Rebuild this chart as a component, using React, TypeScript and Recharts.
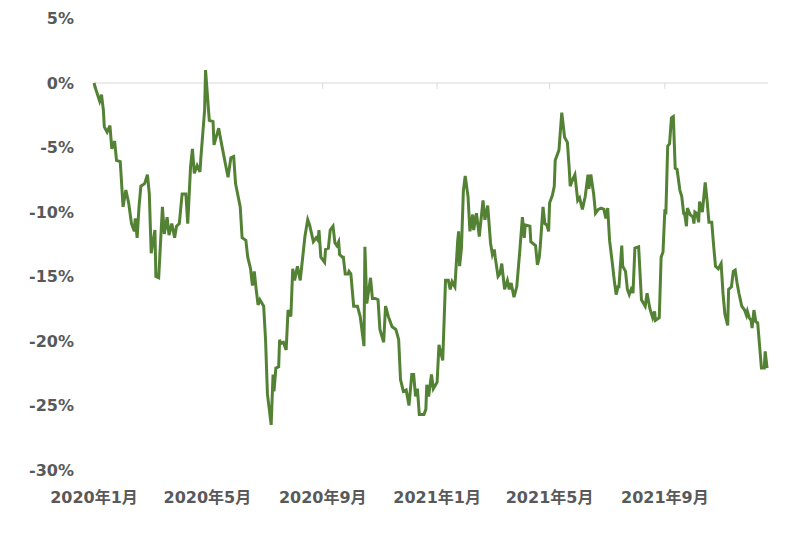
import { CartesianGrid, Line, LineChart, ReferenceLine, XAxis, YAxis } from 'recharts';

// 2020/1/1 からの経過日数と、その日のドローダウン（%）
const days = [
  0, 2, 6, 8, 10, 11, 14, 17, 19, 22, 24, 28, 31, 34, 37, 40, 43, 44, 46, 48,
  50, 54, 57, 59, 61, 65, 66, 69, 73, 75, 78, 80, 83, 86, 88, 91, 94, 98, 100, 103,
  105, 107, 110, 113, 114, 118, 119, 123, 127, 128, 133, 136, 140, 143, 146, 149, 151, 156, 158, 162,
  164, 167, 169, 171, 173, 175, 177, 181, 183, 185, 189, 191, 192, 194, 197, 198, 199, 202, 205, 207,
  210, 212, 214, 217, 220, 225, 228, 230, 234, 237, 239, 240, 242, 246, 247, 250, 252, 255, 257, 259,
  261, 262, 265, 266, 268, 271, 272, 274, 277, 281, 284, 288, 289, 291, 295, 297, 300, 303, 305, 309,
  311, 314, 318, 322, 325, 327, 330, 333, 336, 339, 341, 343, 345, 347, 352, 354, 355, 357, 360, 362,
  366, 368, 372, 375, 378, 380, 382, 385, 388, 389, 390, 392, 394, 396, 399, 401, 404, 405, 408, 411,
  415, 417, 420, 423, 425, 427, 428, 431, 433, 435, 438, 441, 443, 445, 448, 451, 454, 457, 459, 460,
  465, 466, 471, 473, 475, 476, 479, 481, 483, 485, 486, 489, 491, 492, 496, 499, 502, 505, 507, 508,
  511, 513, 516, 518, 521, 524, 527, 528, 530, 533, 535, 538, 541, 544, 546, 548, 550, 553, 555, 557,
  559, 560, 563, 564, 567, 569, 571, 574, 575, 577, 581, 584, 588, 590, 593, 596, 598, 599, 603, 605,
  607, 609, 610, 612, 614, 616, 618, 620, 622, 625, 627, 629, 630, 632, 633, 636, 639, 640, 641, 643,
  645, 646, 649, 652, 654, 656, 659, 661, 663, 666, 669, 671, 673, 676, 677, 680, 682, 684, 686, 688,
  691, 694, 696, 697, 699, 701, 702, 704, 706, 708, 712, 715, 716, 718,
];

const drawdown = [
  0, -0.5, -1.4, -0.9, -2.1, -3.4, -3.8, -3.3, -5.1, -4.5, -6.0, -6.1, -9.6, -8.3, -9.3, -10.9, -11.5, -10.5, -12.0, -9.6,
  -8.0, -7.8, -7.1, -8.6, -13.2, -11.4, -15.0, -15.1, -9.6, -11.7, -10.4, -11.8, -10.9, -12.0, -11.1, -10.9, -8.6, -8.6, -10.9, -6.5,
  -5.1, -7.0, -6.4, -6.9, -5.8, -2.1, 1.0, -2.9, -3.0, -4.8, -3.5, -4.7, -6.2, -7.3, -5.8, -5.7, -7.8, -9.6, -12.0, -12.2,
  -13.5, -14.4, -15.7, -14.6, -16.0, -17.2, -16.8, -17.3, -19.9, -24.1, -26.5, -22.6, -23.9, -22.1, -22.0, -19.9, -20.2, -20.1, -20.7, -17.6,
  -18.1, -14.4, -15.3, -14.2, -15.3, -11.9, -10.6, -11.0, -12.3, -12.0, -12.2, -11.4, -13.5, -13.9, -12.9, -12.8, -11.4, -11.1, -12.4, -12.6,
  -12.3, -13.3, -13.5, -13.5, -14.8, -14.8, -14.6, -14.8, -17.3, -17.3, -18.1, -20.4, -12.7, -17.1, -15.1, -16.7, -16.7, -16.8, -19.1, -20.1,
  -17.3, -18.1, -18.9, -19.1, -19.9, -23.0, -23.9, -23.8, -25.0, -22.6, -22.6, -24.3, -23.7, -25.7, -25.7, -25.3, -23.4, -24.3, -22.6, -23.7,
  -23.2, -20.3, -21.5, -15.3, -15.3, -16.0, -15.4, -15.8, -12.2, -11.5, -14.2, -12.8, -8.4, -7.2, -8.8, -11.5, -10.2, -11.4, -10.1, -11.9,
  -9.1, -10.6, -9.5, -12.4, -13.3, -12.9, -13.5, -15.0, -14.8, -14.0, -16.0, -15.3, -16.0, -15.5, -16.6, -15.8, -13.2, -10.4, -12.0, -11.0,
  -11.1, -12.3, -12.6, -14.1, -13.5, -12.7, -9.6, -10.9, -11.0, -11.5, -9.3, -8.7, -8.0, -6.0, -5.2, -2.3, -4.2, -4.6, -6.7, -8.0,
  -7.4, -7.1, -9.1, -8.9, -9.8, -8.8, -7.1, -8.2, -7.1, -8.6, -10.1, -9.8, -9.7, -9.8, -10.5, -9.7, -12.2, -14.0, -15.3, -16.4,
  -15.8, -15.8, -12.6, -14.2, -14.6, -16.0, -16.4, -15.8, -16.3, -12.8, -12.7, -16.8, -17.3, -16.3, -17.5, -18.2, -17.7, -18.4, -18.2, -13.5,
  -13.1, -9.8, -10.2, -4.9, -4.7, -2.7, -2.6, -6.6, -6.7, -8.3, -8.8, -10.1, -10.1, -11.1, -9.7, -10.2, -10.4, -10.9, -10.0, -10.1,
  -10.8, -9.2, -10.0, -7.7, -9.1, -10.8, -10.8, -12.6, -14.2, -14.4, -14.0, -16.3, -17.9, -18.8, -16.0, -15.8, -14.6, -14.5, -15.5, -16.3,
  -17.3, -17.6, -18.0, -17.7, -18.2, -18.4, -19.0, -17.6, -18.5, -18.6, -22.1, -22.1, -20.8, -22.1,
];

const monthTicks = [0, 121, 244, 366, 486, 609];
const monthLabels = ['2020年1月', '2020年5月', '2020年9月', '2021年1月', '2021年5月', '2021年9月'];
const percentTicks = [-30, -25, -20, -15, -10, -5, 0, 5];

const data = days.map((day, i) => ({ day, value: drawdown[i] }));

const labelFont = { fontFamily: 'DejaVu Sans, "Noto Sans CJK SC", sans-serif', fontSize: 16, fontWeight: 700, fill: '#595959' };

export default function App() {
  return (
    <LineChart width={776} height={529} data={data} margin={{ top: 10.5, right: 16, bottom: 37, left: 0 }}>
      <CartesianGrid horizontal={false} vertical={false} />
      <XAxis
        dataKey="day"
        type="number"
        domain={[0, 719]}
        ticks={monthTicks}
        tickFormatter={(v: number) => monthLabels[monthTicks.indexOf(v)] ?? ''}
        axisLine={false}
        tickLine={false}
        tickSize={0}
        tickMargin={22}
        height={30}
        tick={labelFont}
        interval={0}
      />
      <YAxis
        type="number"
        domain={[-30, 5]}
        ticks={percentTicks}
        tickFormatter={(v: number) => `${v}%`}
        axisLine={false}
        tickLine={false}
        tickSize={0}
        tickMargin={20}
        width={86}
        tick={labelFont}
        interval={0}
      />
      <ReferenceLine y={0} stroke="#d9d9d9" strokeWidth={1} />
      {monthTicks.map((t) => (
        <ReferenceLine
          key={t}
          segment={[
            { x: t, y: 0 },
            { x: t, y: -0.45 },
          ]}
          stroke="#d9d9d9"
          strokeWidth={1}
        />
      ))}
      <Line
        dataKey="value"
        type="linear"
        stroke="#548235"
        strokeWidth={3}
        dot={false}
        activeDot={false}
        isAnimationActive={false}
      />
    </LineChart>
  );
}
